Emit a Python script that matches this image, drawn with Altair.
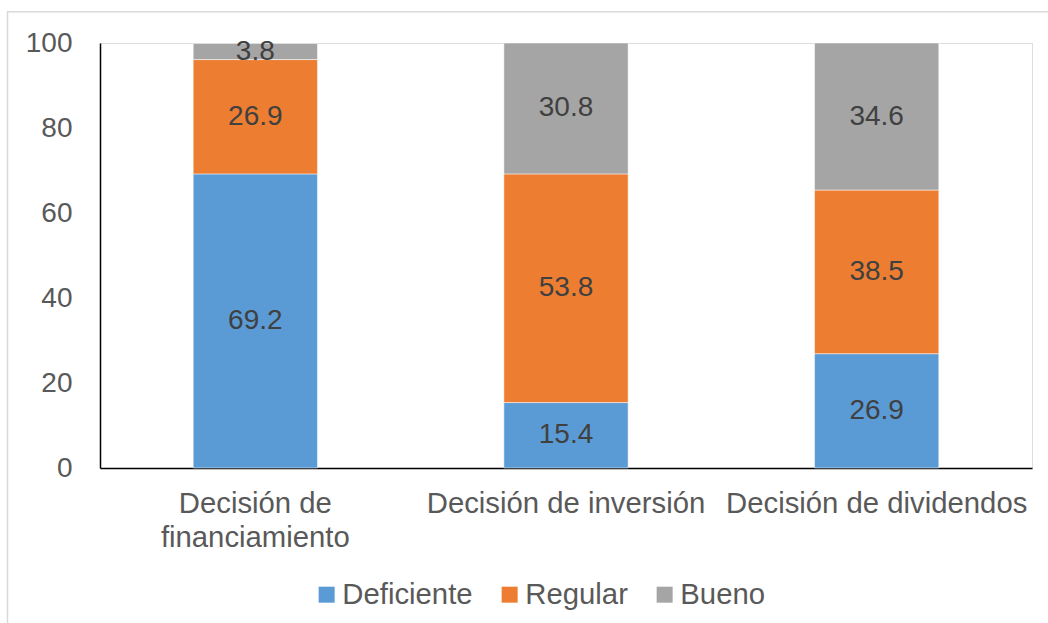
import altair as alt
import pandas as pd

# Stacked shares (%) per decision type
categories = ["Decisión de financiamiento", "Decisión de inversión", "Decisión de dividendos"]
levels = ["Deficiente", "Regular", "Bueno"]
deficiente = [69.2, 15.4, 26.9]
regular = [26.9, 53.8, 38.5]
bueno = [3.8, 30.8, 34.6]
level_colors = ["#5B9BD5", "#ED7D31", "#A5A5A5"]
y_ticks = [0, 20, 40, 60, 80, 100]

rows = []
for i, cat in enumerate(categories):
    for k, (lvl, series) in enumerate(zip(levels, [deficiente, regular, bueno])):
        rows.append({"categoria": cat, "nivel": lvl, "orden": k, "valor": series[i]})
df = pd.DataFrame(rows)

FONT = "Liberation Sans"
W, H = 932, 425

x_enc = alt.X(
    "categoria:N",
    sort=categories,
    scale=alt.Scale(paddingInner=0.6, paddingOuter=0.3),
    axis=alt.Axis(
        title=None,
        labelAngle=0,
        labelFontSize=29.3,
        labelFont=FONT,
        labelColor="#595959",
        labelPadding=21,
        labelLineHeight=34,
        labelBaseline="top",
        labelLimit=400,
        labelOverlap=False,
        ticks=False,
        domainColor="#000000",
        domainWidth=1.5,
        labelExpr="datum.label == 'Decisión de financiamiento' ? ['Decisión de', 'financiamiento'] : datum.label",
    ),
)

bars = alt.Chart(df).mark_bar(stroke="#ffffff", strokeWidth=0.5).encode(
    x=x_enc,
    y=alt.Y(
        "valor:Q",
        stack="zero",
        scale=alt.Scale(domain=[0, 100], nice=False),
        axis=alt.Axis(
            title=None,
            values=y_ticks,
            grid=False,
            ticks=False,
            labelFontSize=28,
            labelFont=FONT,
            labelColor="#595959",
            labelPadding=28,
            domainColor="#000000",
            domainWidth=1.5,
        ),
    ),
    color=alt.Color(
        "nivel:N",
        sort=levels,
        scale=alt.Scale(domain=levels, range=level_colors),
        legend=alt.Legend(
            title=None,
            orient="none",
            direction="horizontal",
            legendX=212,
            legendY=537,
            symbolType="square",
            symbolSize=256,
            symbolStrokeWidth=0,
            labelFontSize=29.3,
            labelFont=FONT,
            labelColor="#595959",
            labelOffset=1,
            columnPadding=22,
        ),
    ),
    order=alt.Order("orden:Q"),
)

labels = alt.Chart(df).transform_window(
    acumulado="sum(valor)",
    groupby=["categoria"],
    sort=[alt.SortField("orden")],
    frame=[None, 0],
).transform_calculate(
    centro="datum.acumulado - datum.valor / 2"
).mark_text(
    fontSize=28, font=FONT, color="#404040", baseline="middle"
).encode(
    x=alt.X("categoria:N", sort=categories),
    y=alt.Y("centro:Q"),
    text=alt.Text("valor:Q", format=".1f"),
)

# light outer frame around the chart area
frame = alt.Chart(pd.DataFrame({"f": [0]})).mark_rect(
    fill="transparent", stroke="#D9D9D9", strokeWidth=1.5
).encode(
    x=alt.value(-92.5), x2=alt.value(1000),
    y=alt.value(-31.2), y2=alt.value(700),
)

chart = alt.layer(frame, bars, labels).properties(
    width=W,
    height=H,
    autosize=alt.AutoSizeParams(type="none"),
    padding={"left": 100, "top": 43, "right": 16, "bottom": 155},
).configure_view(stroke=None).configure(background="#ffffff")

chart.save("out.html", embed_options={"renderer": "svg", "actions": False})
